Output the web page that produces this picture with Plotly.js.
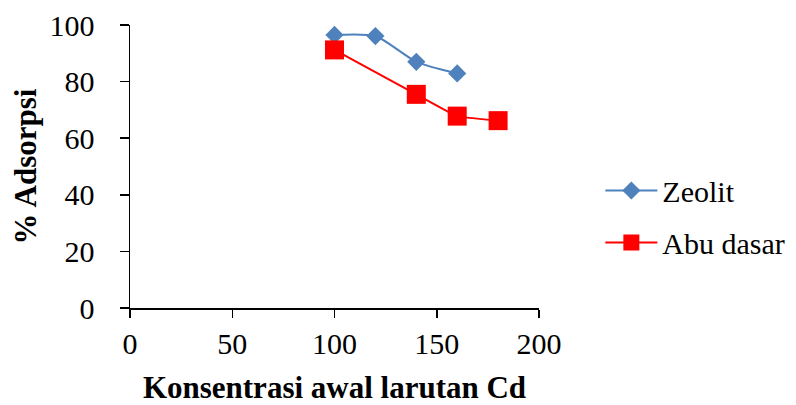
<!DOCTYPE html>
<html><head><meta charset="utf-8">
<script src="https://cdn.plot.ly/plotly-3.0.1.min.js"></script>
<style>html,body{margin:0;padding:0;background:#fff}#c{width:796px;height:405px}</style>
</head><body><div id="c"></div>
<script>
const zeolitX = [100, 120, 140, 160];
const zeolitY = [96.5, 96.1, 87.0, 82.9];
const abuX = [100, 140, 160, 180];
const abuY = [91.2, 75.5, 67.8, 66.2];
const xTicks = [0, 50, 100, 150, 200];
const yTicks = [0, 20, 40, 60, 80, 100];
const seriesNames = ['Zeolit', 'Abu dasar'];

const font = 'Liberation Serif';
const traces = [
  {x: zeolitX, y: zeolitY, name: seriesNames[0], mode: 'lines+markers', legendgroup: 'a',
   line: {color: '#4F81BD', width: 2, shape: 'spline', smoothing: 0.6},
   marker: {symbol: 'diamond', size: 14, color: '#4F81BD'}},
  {x: abuX, y: abuY, name: seriesNames[1], mode: 'lines+markers', legendgroup: 'b',
   line: {color: '#FF0000', width: 2, shape: 'spline', smoothing: 0.3},
   marker: {symbol: 'square', size: 19, color: '#FF0000'}}
];
const layout = {
  width: 796, height: 405,
  margin: {l: 129.5, r: 256.7, t: 25, b: 97.3, autoexpand: false},
  paper_bgcolor: '#ffffff', plot_bgcolor: 'rgba(0,0,0,0)',
  font: {family: font, size: 30, color: '#000'},
  xaxis: {range: [0, 200], tickvals: xTicks, ticks: 'outside', ticklen: 8, tickwidth: 1.5, tickcolor: '#000',
    showline: true, linecolor: '#000', linewidth: 1.5, showgrid: false, zeroline: false,
    tickfont: {family: font, size: 30, color: '#000'}, ticklabelstandoff: 0,
    title: {text: '<b>Konsentrasi awal larutan Cd</b>', font: {family: font, size: 31, color: '#000'}, standoff: 24}},
  yaxis: {range: [0, 100], tickvals: yTicks, ticks: 'outside', ticklen: 9, tickwidth: 1.5, tickcolor: '#000',
    showline: true, linecolor: '#000', linewidth: 1.5, showgrid: false, zeroline: false,
    tickfont: {family: font, size: 30, color: '#000'}, ticklabelstandoff: 19,
    title: {text: '<b>% Adsorpsi</b>', font: {family: font, size: 31, color: '#000'}, standoff: 3}},
  showlegend: true,
  legend: {x: 1.150, xanchor: 'left', y: 0.507, yanchor: 'top', font: {family: font, size: 30, color: '#000'},
    itemwidth: 52, traceorder: 'grouped', tracegroupgap: 10, bgcolor: 'rgba(0,0,0,0)'}
};
Plotly.newPlot('c', traces, layout, {displayModeBar: false, staticPlot: true});
</script></body></html>
